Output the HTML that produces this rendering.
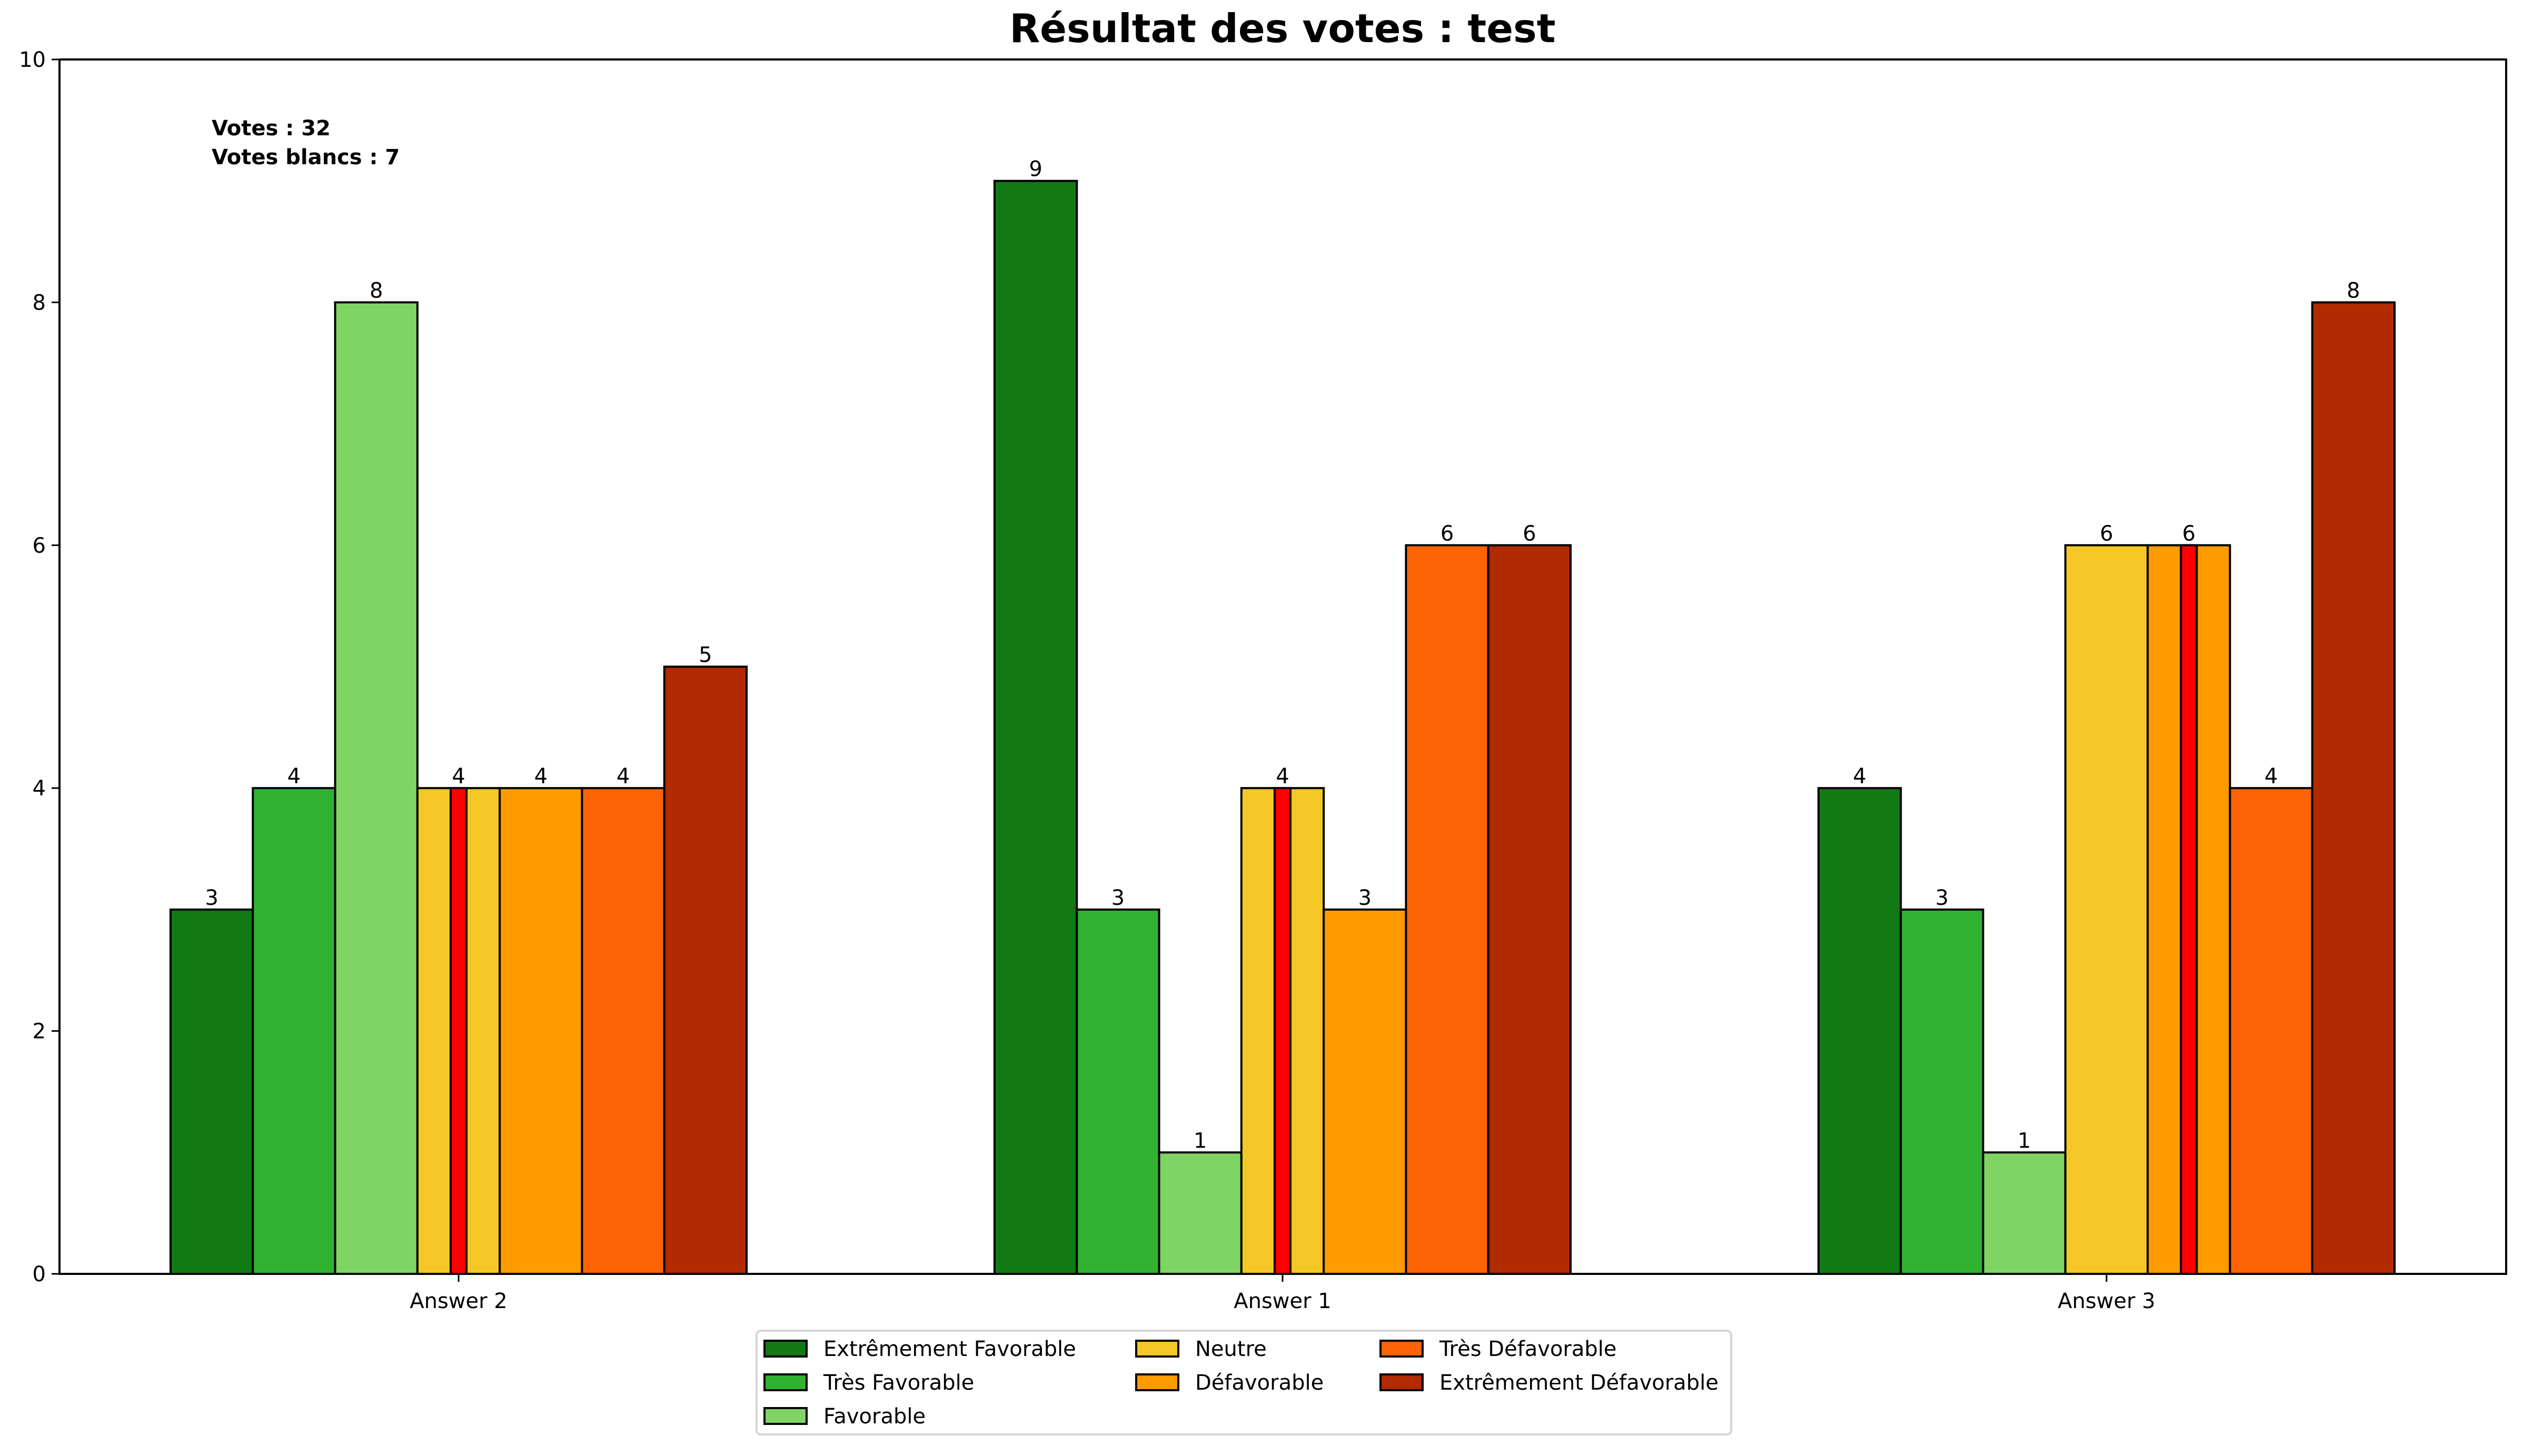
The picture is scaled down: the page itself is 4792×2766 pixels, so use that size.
<!DOCTYPE html>
<html><head><meta charset="utf-8"><style>
html,body{margin:0;padding:0;background:#fff;}
svg text{font-family:"DejaVu Sans","Liberation Sans",sans-serif;}
</style></head><body>
<svg id="chart" xmlns="http://www.w3.org/2000/svg" width="4792" height="2761" viewBox="0 0 4792 2761">
<rect x="0" y="0" width="4792" height="2761" fill="#fff"/>
<text x="2436" y="80" text-anchor="middle" font-size="75" font-weight="bold">Résultat des votes : test</text>
<g id="plot"></g>
<text x="402" y="257" font-size="40" font-weight="bold">Votes : 32</text>
<text x="402" y="312" font-size="40" font-weight="bold">Votes blancs : 7</text>
<g id="legend"></g>
</svg>
<script>
const categories = ["Answer 2", "Answer 1", "Answer 3"];
const seriesNames = ["Extrêmement Favorable","Très Favorable","Favorable","Neutre","Défavorable","Très Défavorable","Extrêmement Défavorable"];
const seriesColors = ["#117a15","#30b230","#80d464","#f4c726","#fe9b00","#fe6405","#b22a00"];
const valuesExtFav = [3, 9, 4];
const valuesTresFav = [4, 3, 3];
const valuesFav = [8, 1, 1];
const valuesNeutre = [4, 4, 6];
const valuesDefav = [4, 3, 6];
const valuesTresDefav = [4, 6, 4];
const valuesExtDefav = [5, 6, 8];
const medianIndex = [3, 3, 4];
const yTicks = [0, 2, 4, 6, 8, 10];

const NS = "http://www.w3.org/2000/svg";
const L = 113, R = 4760, T = 113, B = 2420;
const yMax = 10;
const groupCenter0 = 871, groupStep = 1565, barW = 156.3;
function yScale(v){ return B - (v / yMax) * (B - T); }
function xGroup(i){ return groupCenter0 + i * groupStep; }
function xBar(g, s){ return xGroup(g) + (s - 3) * barW - barW / 2; }
function mk(tag, attrs, parent){
  const e = document.createElementNS(NS, tag);
  for (const k in attrs) e.setAttribute(k, attrs[k]);
  parent.appendChild(e);
  return e;
}
const plot = document.getElementById("plot");
const allSeries = [valuesExtFav, valuesTresFav, valuesFav, valuesNeutre, valuesDefav, valuesTresDefav, valuesExtDefav];

allSeries.forEach((vals, s) => {
  vals.forEach((v, g) => {
    const x = xBar(g, s), y = yScale(v);
    const r = mk("rect", {x: x, y: y, width: barW, height: B - y, fill: seriesColors[s], stroke: "#000", "stroke-width": 4}, plot);
    
    
    const t = mk("text", {x: x + barW / 2, y: y - 9, "text-anchor": "middle", "font-size": 40}, plot);
    t.textContent = v;
    
    
  });
});
medianIndex.forEach((s, g) => {
  const v = allSeries[s][g];
  const cx = xBar(g, s) + barW / 2;
  const y = yScale(v);
  const r = mk("rect", {x: cx - 15, y: y, width: 30, height: B - y, fill: "#ff0000", stroke: "#000", "stroke-width": 4}, plot);
  
  
});
// axes frame
const frame = mk("rect", {x: L, y: T, width: R - L, height: B - T, fill: "none", stroke: "#000", "stroke-width": 4}, plot);


yTicks.forEach(v => {
  const y = yScale(v);
  const tk = mk("line", {x1: L - 15, x2: L, y1: y, y2: y, stroke: "#000", "stroke-width": 3}, plot);
  
  
  const t = mk("text", {x: L - 26, y: y + 14, "text-anchor": "end", "font-size": 40}, plot);
  t.textContent = v;
  
  
});
categories.forEach((c, g) => {
  const x = xGroup(g);
  const tk = mk("line", {x1: x, x2: x, y1: B, y2: B + 15, stroke: "#000", "stroke-width": 3}, plot);
  
  
  const t = mk("text", {x: x, y: B + 65, "text-anchor": "middle", "font-size": 40}, plot);
  t.textContent = c;
  
  
});
// legend
const lg = document.getElementById("legend");
const box = mk("rect", {x: 1437, y: 2528, width: 1851, height: 197, rx: 8, fill: "#fff", stroke: "#d6d6d6", "stroke-width": 4}, lg);


const colX = [1452, 2158, 2622];
const rowY = [2562, 2626, 2690];
const layout = [[0,0],[0,1],[0,2],[1,0],[1,1],[2,0],[2,1]];
seriesNames.forEach((n, s) => {
  const [c, r] = layout[s];
  const g = mk("g", {}, lg);
  
  
  mk("rect", {x: colX[c], y: rowY[r] - 15, width: 80, height: 30, fill: seriesColors[s], stroke: "#000", "stroke-width": 4}, g);
  const t = mk("text", {x: colX[c] + 112, y: rowY[r] + 14, "font-size": 40}, g);
  t.textContent = n;
});
</script>
</body></html>
